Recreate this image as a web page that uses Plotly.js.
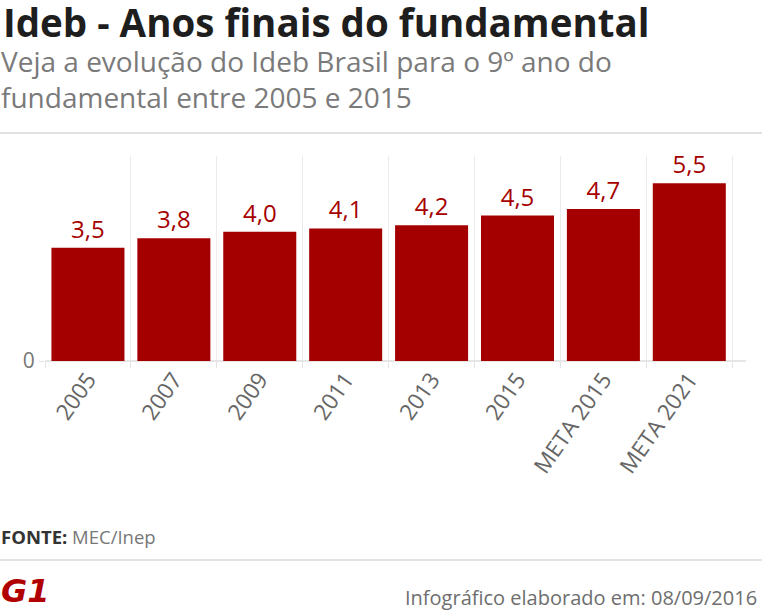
<!DOCTYPE html>
<html>
<head>
<meta charset="utf-8">
<script src="https://cdn.plot.ly/plotly-3.0.1.min.js"></script>
<style>
  html, body { margin: 0; padding: 0; background: #fff; }
  #chart { width: 762px; height: 611px; }
</style>
</head>
<body>
<div id="chart"></div>
<script>
// ---- data ----
const categories = ["2005", "2007", "2009", "2011", "2013", "2015", "META 2015", "META 2021"];
const idebValues = [3.5, 3.8, 4.0, 4.1, 4.2, 4.5, 4.7, 5.5];

const titleText = "Ideb - Anos finais do fundamental";
const subtitleLines = ["Veja a evolução do Ideb Brasil para o 9º ano do", "fundamental entre 2005 e 2015"];
const sourceText = "<b>FONTE:</b> <span style='color:#777'>MEC/Inep</span>";
const creditText = "Infográfico elaborado em: 08/09/2016";

// ---- layout geometry (pixels) ----
const W = 762, H = 611;
const M = { l: 45, r: 16, t: 156, b: 250 };
const plotW = W - M.l - M.r, plotH = H - M.t - M.b;
const px = x => (x - M.l) / plotW;          // pixel x -> paper x
const py = y => (H - M.b - y) / plotH;      // pixel y -> paper y

const FONT = "'Open Sans', 'Noto Sans', sans-serif";
const RED = "#a50000";

const trace = {
  type: "bar",
  x: categories,
  y: idebValues,
  marker: { color: RED, line: { width: 0 } },
  width: 0.85,
  text: idebValues.map(v => v.toFixed(1).replace(".", ",")),
  textposition: "outside",
  textfont: { family: FONT, size: 24, color: RED },
  cliponaxis: false,
  hoverinfo: "skip"
};

const layout = {
  width: W, height: H,
  margin: M,
  paper_bgcolor: "#fff",
  plot_bgcolor: "#fff",
  showlegend: false,
  separators: ",.",
  font: { family: FONT, color: "#666" },
  xaxis: {
    type: "category",
    range: [-0.5, 7.66],
    tickson: "boundaries",
    showgrid: true,
    gridcolor: "#ebebeb",
    gridwidth: 1,
    ticks: "outside",
    ticklen: 6,
    tickcolor: "#e3e3e3",
    tickangle: -55,
    tickfont: { family: FONT, size: 22.5, color: "#666" },
    showline: false,
    zeroline: false,
    fixedrange: true
  },
  yaxis: {
    range: [0, 6.34],
    showgrid: false,
    zeroline: true,
    zerolinecolor: "#e6e6e6",
    zerolinewidth: 2,
    tickvals: [0],
    ticktext: ["0"],
    ticks: "outside",
    ticklen: 5,
    tickcolor: "#e3e3e3",
    tickfont: { family: FONT, size: 21, color: "#777" },
    showline: false,
    fixedrange: true
  },
  annotations: [
    { text: titleText, xref: "paper", yref: "paper", x: px(2), y: py(22),
      xanchor: "left", yanchor: "middle", showarrow: false, borderpad: 0,
      font: { family: FONT, size: 38.5, color: "#1e1e1e", weight: 700 } },
    { text: subtitleLines.join("<br>"), xref: "paper", yref: "paper", x: px(0), y: py(79),
      xanchor: "left", yanchor: "middle", align: "left", showarrow: false, borderpad: 0,
      font: { family: FONT, size: 28, color: "#7a7a7a" } },
    { text: sourceText, xref: "paper", yref: "paper", x: px(0), y: py(536),
      xanchor: "left", yanchor: "middle", showarrow: false, borderpad: 0,
      font: { family: FONT, size: 18.5, color: "#333" } },
    { text: creditText, xref: "paper", yref: "paper", x: px(758), y: py(597),
      xanchor: "right", yanchor: "middle", showarrow: false, borderpad: 0,
      font: { family: FONT, size: 20, color: "#6e6e6e" } },
    { text: "<b><i>G1</i></b>", xref: "paper", yref: "paper", x: px(0), y: py(591),
      xanchor: "left", yanchor: "middle", showarrow: false, borderpad: 0,
      font: { family: "'DejaVu Sans', sans-serif", size: 32, color: "#b10000" } }
  ],
  shapes: [
    { type: "line", xref: "paper", yref: "paper", x0: px(0), x1: px(W), y0: py(133), y1: py(133),
      line: { color: "#e2e2e2", width: 2 } },
    { type: "line", xref: "paper", yref: "paper", x0: px(0), x1: px(W), y0: py(560), y1: py(560),
      line: { color: "#e2e2e2", width: 2 } }
  ]
};

Plotly.newPlot("chart", [trace], layout, { displayModeBar: false, staticPlot: true });
</script>
</body>
</html>
